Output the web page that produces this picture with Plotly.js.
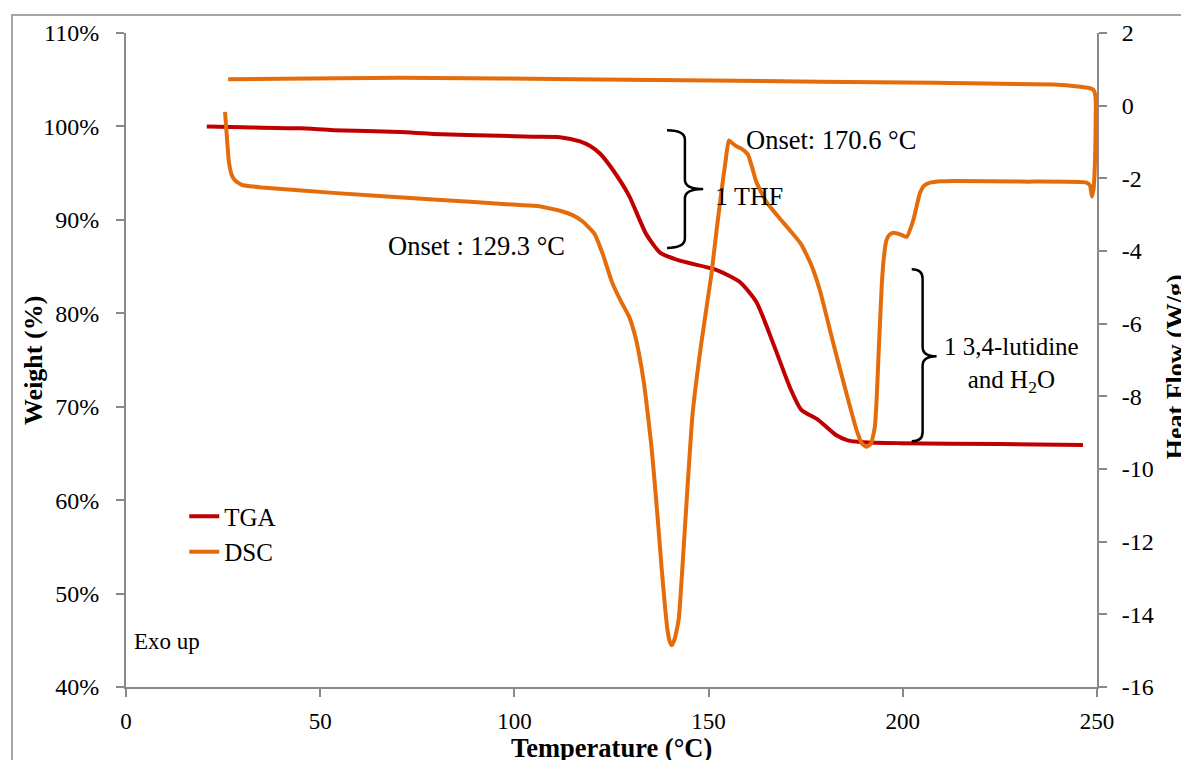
<!DOCTYPE html>
<html>
<head>
<meta charset="utf-8">
<script src="https://cdn.plot.ly/plotly-3.0.1.min.js"></script>
<style>
  html, body { margin: 0; padding: 0; background: #ffffff; overflow: hidden; }
  #frame { position: absolute; left: 11px; top: 14px; width: 1200px; height: 800px; border: 2px solid #a6a6a6; box-sizing: border-box; z-index: 0; }
  #chart { position: absolute; left: 0; top: 0; width: 1181px; height: 760px; z-index: 1; }
</style>
</head>
<body>
<div id="frame"></div>
<div id="chart"></div>
<script>
// ---- TGA (weight %, left axis) ----
const tgaTemp = [20.8, 30, 44.8, 53.4, 70.5, 79.1, 96.3, 104.8, 111.7, 116.9, 119.5, 122, 125.1, 129.5, 133.9, 137.5, 142.8, 151.6, 157.9, 162.3, 166.7, 171.1, 173.8, 178.2, 182.7, 185.8, 190, 199.3, 225, 246.4];
const tgaWeight = [100.0, 99.9, 99.8, 99.6, 99.4, 99.2, 99.0, 98.9, 98.85, 98.4, 97.9, 97.1, 95.5, 92.6, 88.5, 86.5, 85.6, 84.7, 83.4, 81.2, 76.7, 71.9, 69.7, 68.6, 67.0, 66.4, 66.2, 66.1, 66.0, 65.9];

// ---- DSC (heat flow W/g, right axis) ----
const dscTemp = [25.5, 26.0, 26.5, 27.2, 28.0, 29.8, 35, 53.3, 79.1, 100.6, 106, 109.2, 112, 115.1, 117.5, 120.6, 122.8, 125.1, 127.5, 129.5, 131, 132.1, 133.3, 134.3, 135.3, 136.1, 137.0, 137.9, 138.7, 139.4, 140.0, 140.5, 141.2, 142.3, 143.2, 144.1, 145.0, 145.9, 148.1, 150.7, 152.2, 153.4, 154.4, 155.2, 156.0, 156.9, 157.8, 158.7, 160.1, 161.2, 162.3, 165.0, 169.4, 173.8, 176.5, 178.7, 182.1, 185.5, 188.1, 189.5, 190.7, 191.8, 192.8, 193.3, 193.7, 194.6, 195.2, 195.8, 196.6, 197.6, 199.5, 201.0, 202.7, 204.4, 205.5, 207.0, 210, 213.0, 230.2, 247.3, 248.2, 248.7, 249.1, 249.5, 249.7, 249.6, 249.2, 248.2, 245.6, 238.7, 178.7, 122, 70.5, 40, 26.3];
const dscHeat = [-0.17, -0.9, -1.55, -1.9, -2.05, -2.18, -2.25, -2.40, -2.58, -2.73, -2.76, -2.83, -2.90, -3.02, -3.18, -3.52, -4.1, -4.85, -5.4, -5.80, -6.3, -6.84, -7.6, -8.45, -9.4, -10.35, -11.5, -12.72, -13.7, -14.42, -14.75, -14.85, -14.7, -14.14, -12.8, -11.29, -9.8, -8.45, -6.55, -4.66, -3.3, -2.29, -1.5, -0.96, -1.02, -1.10, -1.15, -1.20, -1.34, -1.7, -2.10, -2.67, -3.24, -3.81, -4.4, -5.1, -6.54, -7.92, -8.93, -9.3, -9.39, -9.3, -8.84, -8.0, -7.0, -4.9, -4.1, -3.70, -3.55, -3.50, -3.55, -3.61, -3.15, -2.41, -2.2, -2.12, -2.08, -2.07, -2.09, -2.12, -2.2, -2.5, -2.3, -1.5, 0.0, 0.25, 0.42, 0.48, 0.52, 0.58, 0.66, 0.72, 0.77, 0.74, 0.73];

// ---- axis ticks ----
const rightTickVals = [-16, -14, -12, -10, -8, -6, -4, -2, 0, 2];
const rightTickText = ['-16', '-14', '-12', '-10', '-8', '-6', '-4', '-2', '0', '2'];

// ---- annotation anchors ----
const thfBrace = {x: [139.3, 143.9, 148.6], y: [99.6, 93.3, 87.0]};
const lutBrace = {x: [202.3, 205.1, 208.7], y: [84.7, 75.4, 66.3]};

const FONT = 'Liberation Serif, Times New Roman, serif';
const AX = '#898989';

function bracePath(b, hook) {
  const [xl, xm, xt] = b.x;
  const [yt, ym, yb] = b.y;
  const h = hook;
  return `M ${xl} ${yt} Q ${xm} ${yt} ${xm} ${yt - h} L ${xm} ${ym + h} Q ${xm} ${ym} ${xt} ${ym} ` +
         `M ${xm} ${ym - h} Q ${xm} ${ym} ${xt} ${ym} M ${xm} ${ym - h} L ${xm} ${yb + h} Q ${xm} ${yb} ${xl} ${yb}`;
}

const traces = [
  {x: tgaTemp, y: tgaWeight, name: 'TGA', type: 'scatter', mode: 'lines',
   line: {color: '#C00000', width: 4, shape: 'spline', smoothing: 0.6}, yaxis: 'y'},
  {x: dscTemp, y: dscHeat, name: 'DSC', type: 'scatter', mode: 'lines',
   line: {color: '#E46C0A', width: 4, shape: 'spline', smoothing: 0.5}, yaxis: 'y2'}
];

const axisCommon = {
  showgrid: false, zeroline: false, showline: true, linecolor: AX, linewidth: 2,
  ticks: 'outside', ticklen: 8, tickcolor: AX, tickwidth: 2,
  tickfont: {family: FONT, size: 24, color: '#000'}
};

const layout = {
  width: 1181, height: 760,
  margin: {l: 126, r: 84, t: 33, b: 73},
  paper_bgcolor: 'rgba(0,0,0,0)', plot_bgcolor: 'rgba(0,0,0,0)',
  font: {family: FONT, color: '#000'},
  showlegend: true,
  legend: {x: 0.060, y: 0.296, xanchor: 'left', yanchor: 'top', bgcolor: 'rgba(0,0,0,0)',
           font: {family: FONT, size: 25, color: '#000'}, tracegroupgap: 0},
  xaxis: Object.assign({}, axisCommon, {range: [0, 250], dtick: 50, tick0: 0,
           tickfont: {family: FONT, size: 23, color: '#000'}, ticklabelstandoff: 4}),
  yaxis: Object.assign({}, axisCommon, {range: [40, 110], dtick: 10, tick0: 40, ticksuffix: '%',
           ticklabelstandoff: 12}),
  yaxis2: Object.assign({}, axisCommon, {range: [-16, 2], overlaying: 'y', side: 'right',
           tickmode: 'array', tickvals: rightTickVals, ticktext: rightTickText, ticklabelstandoff: 10}),
  shapes: [
    {type: 'path', xref: 'x', yref: 'y', path: bracePath(thfBrace, 1.0), line: {color: '#000', width: 2.5}},
    {type: 'path', xref: 'x', yref: 'y', path: bracePath(lutBrace, 1.0), line: {color: '#000', width: 2.5}}
  ],
  annotations: [
    {text: 'Onset: 170.6 °C', x: 159.1, y: 98.5, xref: 'x', yref: 'y', xanchor: 'left', yanchor: 'middle', showarrow: false, font: {size: 26.5}},
    {text: '1 THF', x: 151.1, y: 92.45, xref: 'x', yref: 'y', xanchor: 'left', yanchor: 'middle', showarrow: false, font: {size: 26}},
    {text: 'Onset : 129.3 °C', x: 67.0, y: 87.2, xref: 'x', yref: 'y', xanchor: 'left', yanchor: 'middle', showarrow: false, font: {size: 26.5}},
    {text: '1 3,4-lutidine<br>and H<sub>2</sub>O', x: 228.1, y: 74.5, xref: 'x', yref: 'y', xanchor: 'center', yanchor: 'middle', align: 'center', showarrow: false, font: {size: 25}},
    {text: 'Exo up', x: 1.5, y: 44.9, xref: 'x', yref: 'y', xanchor: 'left', yanchor: 'middle', showarrow: false, font: {size: 23}},
    {text: '<b>Temperature (°C)</b>', x: 0.5, y: -0.093, xref: 'paper', yref: 'paper', xanchor: 'center', yanchor: 'middle', showarrow: false, font: {size: 26.5}},
    {text: '<b>Weight (%)</b>', x: -0.0958, y: 0.5, xref: 'paper', yref: 'paper', xanchor: 'center', yanchor: 'middle', textangle: -90, showarrow: false, font: {size: 26}},
    {text: '<b>Heat Flow (W/g)</b>', x: 1.081, y: 0.49, xref: 'paper', yref: 'paper', xanchor: 'center', yanchor: 'middle', textangle: -90, showarrow: false, font: {size: 26}}
  ]
};

Plotly.newPlot('chart', traces, layout, {staticPlot: true, displayModeBar: false});
</script>
</body>
</html>
